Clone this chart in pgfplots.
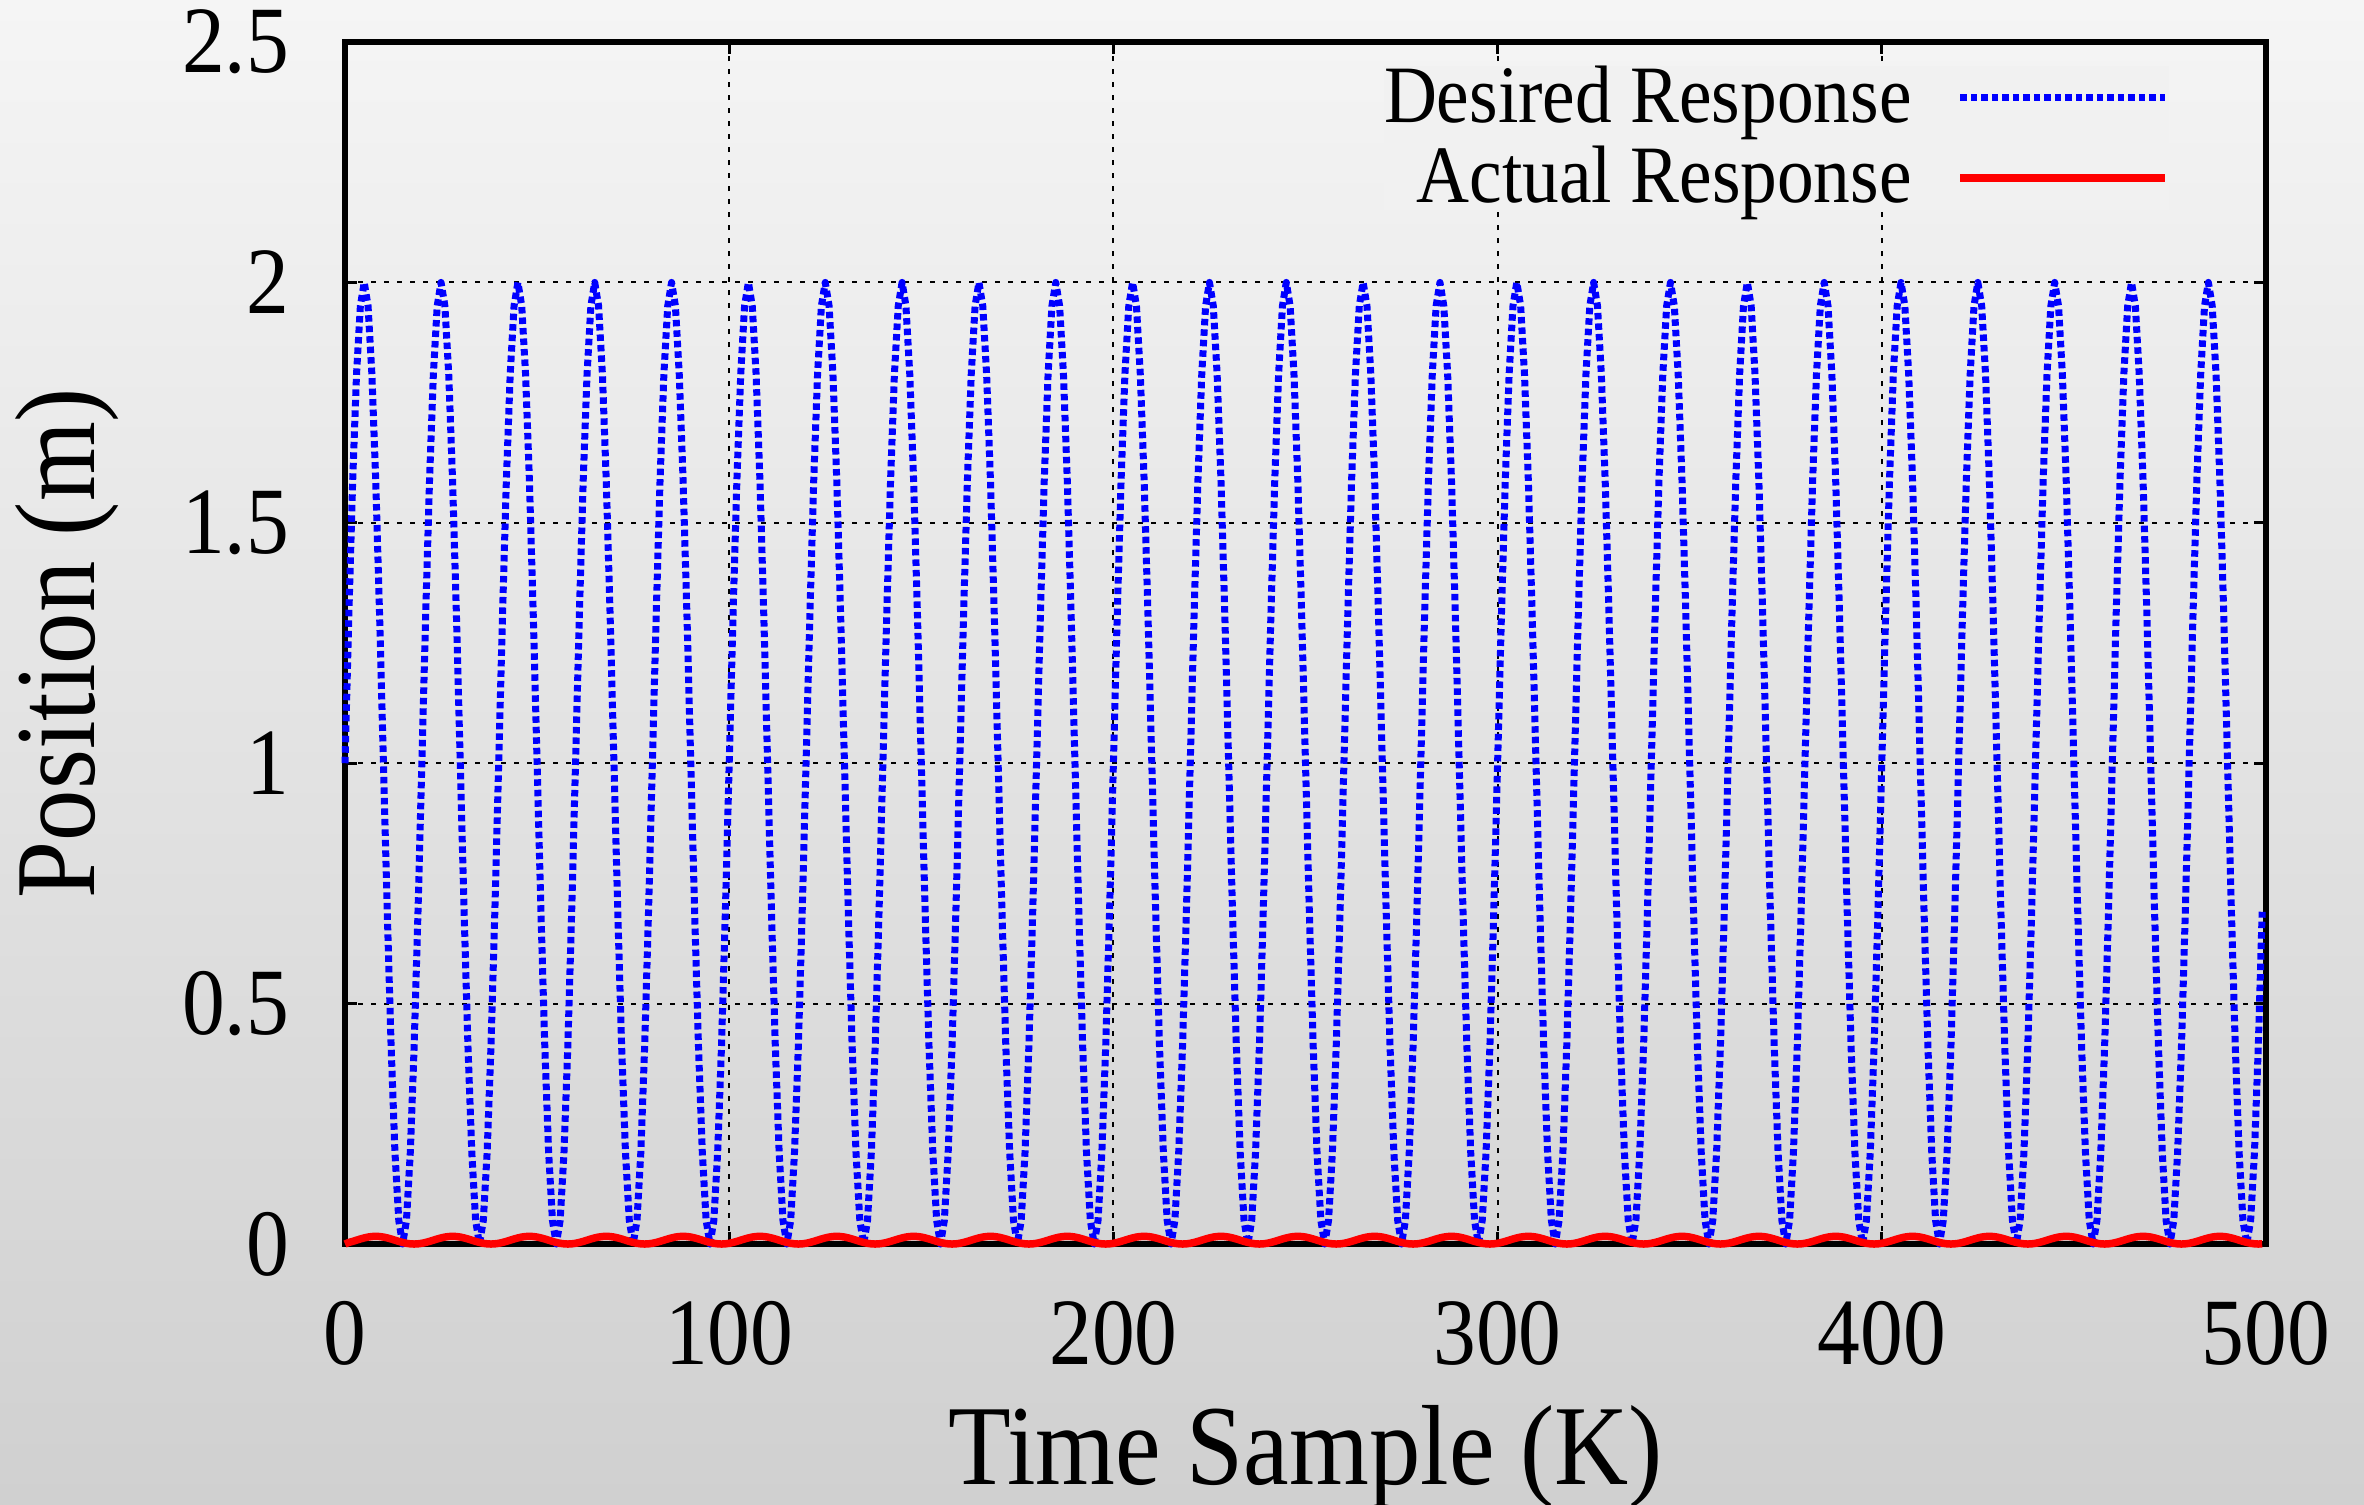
\documentclass[border=0pt]{standalone}
\usepackage{fontspec}
\setmainfont{Liberation Serif}[FakeStretch=0.9]
\usepackage{pgfplots}
\usepackage{pgfplotstable}
\pgfplotsset{compat=1.18}
\definecolor{bgtop}{HTML}{F5F5F5}
\definecolor{bgbot}{HTML}{D0D0D0}
\definecolor{legbg}{HTML}{F1F1F1}
\pgfplotstableread[row sep=\\]{
k d a\\
0 1 0\\ 1 1.309 0.0033\\ 2 1.588 0.0055\\ 3 1.809 0.008\\ 4 1.951 0.0105\\ 5 2 0.0127\\ 6 1.951 0.0145\\ 7 1.809 0.0156\\ 8 1.588 0.016\\ 9 1.309 0.0156\\ 10 1 0.0145\\ 11 0.691 0.0127\\ 12 0.412 0.0105\\ 13 0.191 0.008\\ 14 0.049 0.0055\\ 15 0 0.0033\\ 16 0.049 0.0015\\ 17 0.191 0.0004\\ 18 0.412 0\\ 19 0.691 0.0004\\
20 1 0.0015\\ 21 1.309 0.0033\\ 22 1.588 0.0055\\ 23 1.809 0.008\\ 24 1.951 0.0105\\ 25 2 0.0127\\ 26 1.951 0.0145\\ 27 1.809 0.0156\\ 28 1.588 0.016\\ 29 1.309 0.0156\\ 30 1 0.0145\\ 31 0.691 0.0127\\ 32 0.412 0.0105\\ 33 0.191 0.008\\ 34 0.049 0.0055\\ 35 0 0.0033\\ 36 0.049 0.0015\\ 37 0.191 0.0004\\ 38 0.412 0\\ 39 0.691 0.0004\\
40 1 0.0015\\ 41 1.309 0.0033\\ 42 1.588 0.0055\\ 43 1.809 0.008\\ 44 1.951 0.0105\\ 45 2 0.0127\\ 46 1.951 0.0145\\ 47 1.809 0.0156\\ 48 1.588 0.016\\ 49 1.309 0.0156\\ 50 1 0.0145\\ 51 0.691 0.0127\\ 52 0.412 0.0105\\ 53 0.191 0.008\\ 54 0.049 0.0055\\ 55 0 0.0033\\ 56 0.049 0.0015\\ 57 0.191 0.0004\\ 58 0.412 0\\ 59 0.691 0.0004\\
60 1 0.0015\\ 61 1.309 0.0033\\ 62 1.588 0.0055\\ 63 1.809 0.008\\ 64 1.951 0.0105\\ 65 2 0.0127\\ 66 1.951 0.0145\\ 67 1.809 0.0156\\ 68 1.588 0.016\\ 69 1.309 0.0156\\ 70 1 0.0145\\ 71 0.691 0.0127\\ 72 0.412 0.0105\\ 73 0.191 0.008\\ 74 0.049 0.0055\\ 75 0 0.0033\\ 76 0.049 0.0015\\ 77 0.191 0.0004\\ 78 0.412 0\\ 79 0.691 0.0004\\
80 1 0.0015\\ 81 1.309 0.0033\\ 82 1.588 0.0055\\ 83 1.809 0.008\\ 84 1.951 0.0105\\ 85 2 0.0127\\ 86 1.951 0.0145\\ 87 1.809 0.0156\\ 88 1.588 0.016\\ 89 1.309 0.0156\\ 90 1 0.0145\\ 91 0.691 0.0127\\ 92 0.412 0.0105\\ 93 0.191 0.008\\ 94 0.049 0.0055\\ 95 0 0.0033\\ 96 0.049 0.0015\\ 97 0.191 0.0004\\ 98 0.412 0\\ 99 0.691 0.0004\\
100 1 0.0015\\ 101 1.309 0.0033\\ 102 1.588 0.0055\\ 103 1.809 0.008\\ 104 1.951 0.0105\\ 105 2 0.0127\\ 106 1.951 0.0145\\ 107 1.809 0.0156\\ 108 1.588 0.016\\ 109 1.309 0.0156\\ 110 1 0.0145\\ 111 0.691 0.0127\\ 112 0.412 0.0105\\ 113 0.191 0.008\\ 114 0.049 0.0055\\ 115 0 0.0033\\ 116 0.049 0.0015\\ 117 0.191 0.0004\\ 118 0.412 0\\ 119 0.691 0.0004\\
120 1 0.0015\\ 121 1.309 0.0033\\ 122 1.588 0.0055\\ 123 1.809 0.008\\ 124 1.951 0.0105\\ 125 2 0.0127\\ 126 1.951 0.0145\\ 127 1.809 0.0156\\ 128 1.588 0.016\\ 129 1.309 0.0156\\ 130 1 0.0145\\ 131 0.691 0.0127\\ 132 0.412 0.0105\\ 133 0.191 0.008\\ 134 0.049 0.0055\\ 135 0 0.0033\\ 136 0.049 0.0015\\ 137 0.191 0.0004\\ 138 0.412 0\\ 139 0.691 0.0004\\
140 1 0.0015\\ 141 1.309 0.0033\\ 142 1.588 0.0055\\ 143 1.809 0.008\\ 144 1.951 0.0105\\ 145 2 0.0127\\ 146 1.951 0.0145\\ 147 1.809 0.0156\\ 148 1.588 0.016\\ 149 1.309 0.0156\\ 150 1 0.0145\\ 151 0.691 0.0127\\ 152 0.412 0.0105\\ 153 0.191 0.008\\ 154 0.049 0.0055\\ 155 0 0.0033\\ 156 0.049 0.0015\\ 157 0.191 0.0004\\ 158 0.412 0\\ 159 0.691 0.0004\\
160 1 0.0015\\ 161 1.309 0.0033\\ 162 1.588 0.0055\\ 163 1.809 0.008\\ 164 1.951 0.0105\\ 165 2 0.0127\\ 166 1.951 0.0145\\ 167 1.809 0.0156\\ 168 1.588 0.016\\ 169 1.309 0.0156\\ 170 1 0.0145\\ 171 0.691 0.0127\\ 172 0.412 0.0105\\ 173 0.191 0.008\\ 174 0.049 0.0055\\ 175 0 0.0033\\ 176 0.049 0.0015\\ 177 0.191 0.0004\\ 178 0.412 0\\ 179 0.691 0.0004\\
180 1 0.0015\\ 181 1.309 0.0033\\ 182 1.588 0.0055\\ 183 1.809 0.008\\ 184 1.951 0.0105\\ 185 2 0.0127\\ 186 1.951 0.0145\\ 187 1.809 0.0156\\ 188 1.588 0.016\\ 189 1.309 0.0156\\ 190 1 0.0145\\ 191 0.691 0.0127\\ 192 0.412 0.0105\\ 193 0.191 0.008\\ 194 0.049 0.0055\\ 195 0 0.0033\\ 196 0.049 0.0015\\ 197 0.191 0.0004\\ 198 0.412 0\\ 199 0.691 0.0004\\
200 1 0.0015\\ 201 1.309 0.0033\\ 202 1.588 0.0055\\ 203 1.809 0.008\\ 204 1.951 0.0105\\ 205 2 0.0127\\ 206 1.951 0.0145\\ 207 1.809 0.0156\\ 208 1.588 0.016\\ 209 1.309 0.0156\\ 210 1 0.0145\\ 211 0.691 0.0127\\ 212 0.412 0.0105\\ 213 0.191 0.008\\ 214 0.049 0.0055\\ 215 0 0.0033\\ 216 0.049 0.0015\\ 217 0.191 0.0004\\ 218 0.412 0\\ 219 0.691 0.0004\\
220 1 0.0015\\ 221 1.309 0.0033\\ 222 1.588 0.0055\\ 223 1.809 0.008\\ 224 1.951 0.0105\\ 225 2 0.0127\\ 226 1.951 0.0145\\ 227 1.809 0.0156\\ 228 1.588 0.016\\ 229 1.309 0.0156\\ 230 1 0.0145\\ 231 0.691 0.0127\\ 232 0.412 0.0105\\ 233 0.191 0.008\\ 234 0.049 0.0055\\ 235 0 0.0033\\ 236 0.049 0.0015\\ 237 0.191 0.0004\\ 238 0.412 0\\ 239 0.691 0.0004\\
240 1 0.0015\\ 241 1.309 0.0033\\ 242 1.588 0.0055\\ 243 1.809 0.008\\ 244 1.951 0.0105\\ 245 2 0.0127\\ 246 1.951 0.0145\\ 247 1.809 0.0156\\ 248 1.588 0.016\\ 249 1.309 0.0156\\ 250 1 0.0145\\ 251 0.691 0.0127\\ 252 0.412 0.0105\\ 253 0.191 0.008\\ 254 0.049 0.0055\\ 255 0 0.0033\\ 256 0.049 0.0015\\ 257 0.191 0.0004\\ 258 0.412 0\\ 259 0.691 0.0004\\
260 1 0.0015\\ 261 1.309 0.0033\\ 262 1.588 0.0055\\ 263 1.809 0.008\\ 264 1.951 0.0105\\ 265 2 0.0127\\ 266 1.951 0.0145\\ 267 1.809 0.0156\\ 268 1.588 0.016\\ 269 1.309 0.0156\\ 270 1 0.0145\\ 271 0.691 0.0127\\ 272 0.412 0.0105\\ 273 0.191 0.008\\ 274 0.049 0.0055\\ 275 0 0.0033\\ 276 0.049 0.0015\\ 277 0.191 0.0004\\ 278 0.412 0\\ 279 0.691 0.0004\\
280 1 0.0015\\ 281 1.309 0.0033\\ 282 1.588 0.0055\\ 283 1.809 0.008\\ 284 1.951 0.0105\\ 285 2 0.0127\\ 286 1.951 0.0145\\ 287 1.809 0.0156\\ 288 1.588 0.016\\ 289 1.309 0.0156\\ 290 1 0.0145\\ 291 0.691 0.0127\\ 292 0.412 0.0105\\ 293 0.191 0.008\\ 294 0.049 0.0055\\ 295 0 0.0033\\ 296 0.049 0.0015\\ 297 0.191 0.0004\\ 298 0.412 0\\ 299 0.691 0.0004\\
300 1 0.0015\\ 301 1.309 0.0033\\ 302 1.588 0.0055\\ 303 1.809 0.008\\ 304 1.951 0.0105\\ 305 2 0.0127\\ 306 1.951 0.0145\\ 307 1.809 0.0156\\ 308 1.588 0.016\\ 309 1.309 0.0156\\ 310 1 0.0145\\ 311 0.691 0.0127\\ 312 0.412 0.0105\\ 313 0.191 0.008\\ 314 0.049 0.0055\\ 315 0 0.0033\\ 316 0.049 0.0015\\ 317 0.191 0.0004\\ 318 0.412 0\\ 319 0.691 0.0004\\
320 1 0.0015\\ 321 1.309 0.0033\\ 322 1.588 0.0055\\ 323 1.809 0.008\\ 324 1.951 0.0105\\ 325 2 0.0127\\ 326 1.951 0.0145\\ 327 1.809 0.0156\\ 328 1.588 0.016\\ 329 1.309 0.0156\\ 330 1 0.0145\\ 331 0.691 0.0127\\ 332 0.412 0.0105\\ 333 0.191 0.008\\ 334 0.049 0.0055\\ 335 0 0.0033\\ 336 0.049 0.0015\\ 337 0.191 0.0004\\ 338 0.412 0\\ 339 0.691 0.0004\\
340 1 0.0015\\ 341 1.309 0.0033\\ 342 1.588 0.0055\\ 343 1.809 0.008\\ 344 1.951 0.0105\\ 345 2 0.0127\\ 346 1.951 0.0145\\ 347 1.809 0.0156\\ 348 1.588 0.016\\ 349 1.309 0.0156\\ 350 1 0.0145\\ 351 0.691 0.0127\\ 352 0.412 0.0105\\ 353 0.191 0.008\\ 354 0.049 0.0055\\ 355 0 0.0033\\ 356 0.049 0.0015\\ 357 0.191 0.0004\\ 358 0.412 0\\ 359 0.691 0.0004\\
360 1 0.0015\\ 361 1.309 0.0033\\ 362 1.588 0.0055\\ 363 1.809 0.008\\ 364 1.951 0.0105\\ 365 2 0.0127\\ 366 1.951 0.0145\\ 367 1.809 0.0156\\ 368 1.588 0.016\\ 369 1.309 0.0156\\ 370 1 0.0145\\ 371 0.691 0.0127\\ 372 0.412 0.0105\\ 373 0.191 0.008\\ 374 0.049 0.0055\\ 375 0 0.0033\\ 376 0.049 0.0015\\ 377 0.191 0.0004\\ 378 0.412 0\\ 379 0.691 0.0004\\
380 1 0.0015\\ 381 1.309 0.0033\\ 382 1.588 0.0055\\ 383 1.809 0.008\\ 384 1.951 0.0105\\ 385 2 0.0127\\ 386 1.951 0.0145\\ 387 1.809 0.0156\\ 388 1.588 0.016\\ 389 1.309 0.0156\\ 390 1 0.0145\\ 391 0.691 0.0127\\ 392 0.412 0.0105\\ 393 0.191 0.008\\ 394 0.049 0.0055\\ 395 0 0.0033\\ 396 0.049 0.0015\\ 397 0.191 0.0004\\ 398 0.412 0\\ 399 0.691 0.0004\\
400 1 0.0015\\ 401 1.309 0.0033\\ 402 1.588 0.0055\\ 403 1.809 0.008\\ 404 1.951 0.0105\\ 405 2 0.0127\\ 406 1.951 0.0145\\ 407 1.809 0.0156\\ 408 1.588 0.016\\ 409 1.309 0.0156\\ 410 1 0.0145\\ 411 0.691 0.0127\\ 412 0.412 0.0105\\ 413 0.191 0.008\\ 414 0.049 0.0055\\ 415 0 0.0033\\ 416 0.049 0.0015\\ 417 0.191 0.0004\\ 418 0.412 0\\ 419 0.691 0.0004\\
420 1 0.0015\\ 421 1.309 0.0033\\ 422 1.588 0.0055\\ 423 1.809 0.008\\ 424 1.951 0.0105\\ 425 2 0.0127\\ 426 1.951 0.0145\\ 427 1.809 0.0156\\ 428 1.588 0.016\\ 429 1.309 0.0156\\ 430 1 0.0145\\ 431 0.691 0.0127\\ 432 0.412 0.0105\\ 433 0.191 0.008\\ 434 0.049 0.0055\\ 435 0 0.0033\\ 436 0.049 0.0015\\ 437 0.191 0.0004\\ 438 0.412 0\\ 439 0.691 0.0004\\
440 1 0.0015\\ 441 1.309 0.0033\\ 442 1.588 0.0055\\ 443 1.809 0.008\\ 444 1.951 0.0105\\ 445 2 0.0127\\ 446 1.951 0.0145\\ 447 1.809 0.0156\\ 448 1.588 0.016\\ 449 1.309 0.0156\\ 450 1 0.0145\\ 451 0.691 0.0127\\ 452 0.412 0.0105\\ 453 0.191 0.008\\ 454 0.049 0.0055\\ 455 0 0.0033\\ 456 0.049 0.0015\\ 457 0.191 0.0004\\ 458 0.412 0\\ 459 0.691 0.0004\\
460 1 0.0015\\ 461 1.309 0.0033\\ 462 1.588 0.0055\\ 463 1.809 0.008\\ 464 1.951 0.0105\\ 465 2 0.0127\\ 466 1.951 0.0145\\ 467 1.809 0.0156\\ 468 1.588 0.016\\ 469 1.309 0.0156\\ 470 1 0.0145\\ 471 0.691 0.0127\\ 472 0.412 0.0105\\ 473 0.191 0.008\\ 474 0.049 0.0055\\ 475 0 0.0033\\ 476 0.049 0.0015\\ 477 0.191 0.0004\\ 478 0.412 0\\ 479 0.691 0.0004\\
480 1 0.0015\\ 481 1.309 0.0033\\ 482 1.588 0.0055\\ 483 1.809 0.008\\ 484 1.951 0.0105\\ 485 2 0.0127\\ 486 1.951 0.0145\\ 487 1.809 0.0156\\ 488 1.588 0.016\\ 489 1.309 0.0156\\ 490 1 0.0145\\ 491 0.691 0.0127\\ 492 0.412 0.0105\\ 493 0.191 0.008\\ 494 0.049 0.0055\\ 495 0 0.0033\\ 496 0.049 0.0015\\ 497 0.191 0.0004\\ 498 0.412 0\\ 499 0.691 0.0004\\
}\resp
\begin{document}
\begin{tikzpicture}
\shade[top color=bgtop,bottom color=bgbot] (0,0) rectangle (472.8pt,300.8pt);
\path[use as bounding box] (0,0) rectangle (472.8pt,300.8pt);
\begin{axis}[
  at={(69pt,52pt)}, anchor=south west,
  scale only axis, width=384.2pt, height=240.4pt,
  xmin=0, xmax=500, ymin=0, ymax=2.5,
  xtick={0,100,200,300,400,500},
  ytick={0,0.5,1,1.5,2,2.5},
  clip=false,
  grid=major,
  major grid style={black, line width=0.4pt, dash pattern=on 1pt off 1.6pt},
  tick align=inside,
  major tick length=2.4pt,
  tick style={black, line width=0.6pt},
  axis line style={black, line width=1.2pt},
  /pgf/number format/assume math mode=true,
  ticklabel style={font=\fontsize{19pt}{23pt}\selectfont, inner sep=0pt},
  xticklabel style={anchor=north, yshift=-11.2pt},
  yticklabel style={anchor=east, xshift=-11pt},
  xlabel={Time Sample (K)},
  ylabel={Position (m)},
  label style={font=\fontsize{22.8pt}{27pt}\selectfont, inner sep=0pt},
  xlabel style={at={(axis description cs:0.5,0)}, anchor=base, yshift=-48pt},
  ylabel style={at={([xshift=-50pt]axis description cs:0,0.5)}, anchor=base},
  legend cell align=right,
  legend plot pos=right,
  legend style={at={(axis description cs:0.9501,0.981)}, anchor=north east,
    draw=none, fill=legbg, inner sep=0pt, row sep=3.2pt,
    font=\fontsize{16.3pt}{19pt}\selectfont,
    nodes={inner sep=0pt},
    /tikz/every odd column/.append style={column sep=9pt}},
  legend image code/.code={\path[draw=none,fill=none] (0pt,-3pt) -- (0pt,0.7pt); \draw[#1] (0pt,0pt) -- (41pt,0pt);},
]
\addplot[blue, line width=1.4pt, line join=round, dash pattern=on 1.3pt off 0.8pt] table[x=k, y=d] {\resp};
\addlegendentry{Desired Response}
\addplot[red, line width=1.5pt, line join=round] table[x=k, y=a] {\resp};
\addlegendentry{Actual Response}
\end{axis}
\end{tikzpicture}
\end{document}
